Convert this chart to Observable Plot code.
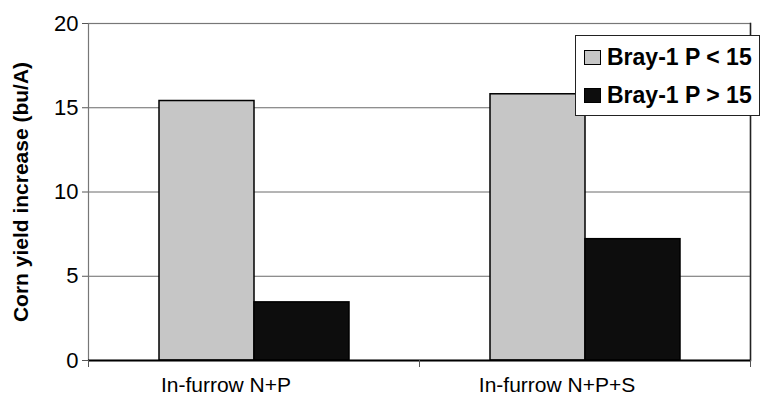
<!DOCTYPE html>
<html>
<head>
<meta charset="utf-8">
<script src="https://cdn.jsdelivr.net/npm/d3@7"></script>
<script src="https://cdn.jsdelivr.net/npm/@observablehq/plot@0.6"></script>
<style>
  html, body { margin: 0; padding: 0; background: #fff; }
  #wrap { position: relative; width: 770px; height: 400px; font-family: "Liberation Sans", Arial, sans-serif; }
  #legend { position: absolute; left: 575px; top: 35px; width: 185px; height: 81px; box-sizing: border-box;
            border: 1.5px solid #222; background: #fff; }
  .row { position: absolute; left: 8px; display: flex; align-items: center; font-weight: bold; font-size: 23px; color: #000; white-space: nowrap; }
  .sw { width: 17px; height: 15px; box-sizing: border-box; border: 1.5px solid #000; margin-right: 6px; }
</style>
</head>
<body>
<div id="wrap"></div>
<script>
const groups = ["In-furrow N+P", "In-furrow N+P+S"];
const series = ["Bray-1 P < 15", "Bray-1 P > 15"];
const lowP = [15.4, 15.8];
const highP = [3.45, 7.2];
const yTicks = [0, 5, 10, 15, 20];
const gridTicks = [5, 10, 15];
const colors = ["#c6c6c6", "#0d0d0d"];

const data = groups.flatMap((g, i) => [
  {group: g, series: series[0], value: lowP[i]},
  {group: g, series: series[1], value: highP[i]}
]);

const chart = Plot.plot({
  width: 770,
  height: 400,
  marginTop: 23,
  marginBottom: 40,
  marginLeft: 88,
  marginRight: 20,
  style: {fontFamily: "'Liberation Sans', Arial, sans-serif", background: "#fff", color: "#000"},
  fx: {domain: groups, padding: 0},
  x: {domain: series, paddingInner: 0, paddingOuter: 0.742, axis: null},
  y: {domain: [0, 20]},
  color: {domain: series, range: colors},
  marks: [
    Plot.gridY(gridTicks, {stroke: "#6a6a6a", strokeOpacity: 1, strokeWidth: 1}),
    Plot.frame({facet: "super", stroke: "#777", strokeWidth: 1.2}),
    Plot.frame({facet: "super", anchor: "right", stroke: "#222", strokeWidth: 1.5}),
    Plot.barY(data, {fx: "group", x: "series", y: "value", fill: "series", stroke: "#000", strokeWidth: 1.5}),
    Plot.ruleY([0], {stroke: "#000", strokeWidth: 2}),
    Plot.axisY(yTicks, {
      anchor: "left", tickSize: 6, tickPadding: 4, fontSize: 22, stroke: "#555",
      label: "Corn yield increase (bu/A)", labelAnchor: "center", labelArrow: "none", labelOffset: 75
    }),
    Plot.axisFx({anchor: "bottom", tickSize: 0, tickPadding: 17, fontSize: 21, dx: -28, label: null}),
    Plot.axisFx({anchor: "bottom", tickSize: 7, tickFormat: () => "", dx: -165.5, label: null, stroke: "#555"}),
    Plot.axisFx({anchor: "bottom", tickSize: 7, tickFormat: () => "", dx: 165.5, label: null, stroke: "#555"})
  ]
});

// style y-axis label bold
chart.querySelectorAll("text").forEach(t => {
  if (t.textContent === "Corn yield increase (bu/A)") {
    t.setAttribute("font-weight", "bold");
    t.setAttribute("font-size", "21");
  }
});

const wrap = document.getElementById("wrap");
wrap.appendChild(chart);

const legend = document.createElement("div");
legend.id = "legend";
series.forEach((s, i) => {
  const row = document.createElement("div");
  row.className = "row";
  row.style.top = (i === 0 ? 8 : 46) + "px";
  const sw = document.createElement("div");
  sw.className = "sw";
  sw.style.background = colors[i];
  const tx = document.createElement("span");
  tx.textContent = s;
  row.appendChild(sw);
  row.appendChild(tx);
  legend.appendChild(row);
});
wrap.appendChild(legend);
</script>
</body>
</html>
